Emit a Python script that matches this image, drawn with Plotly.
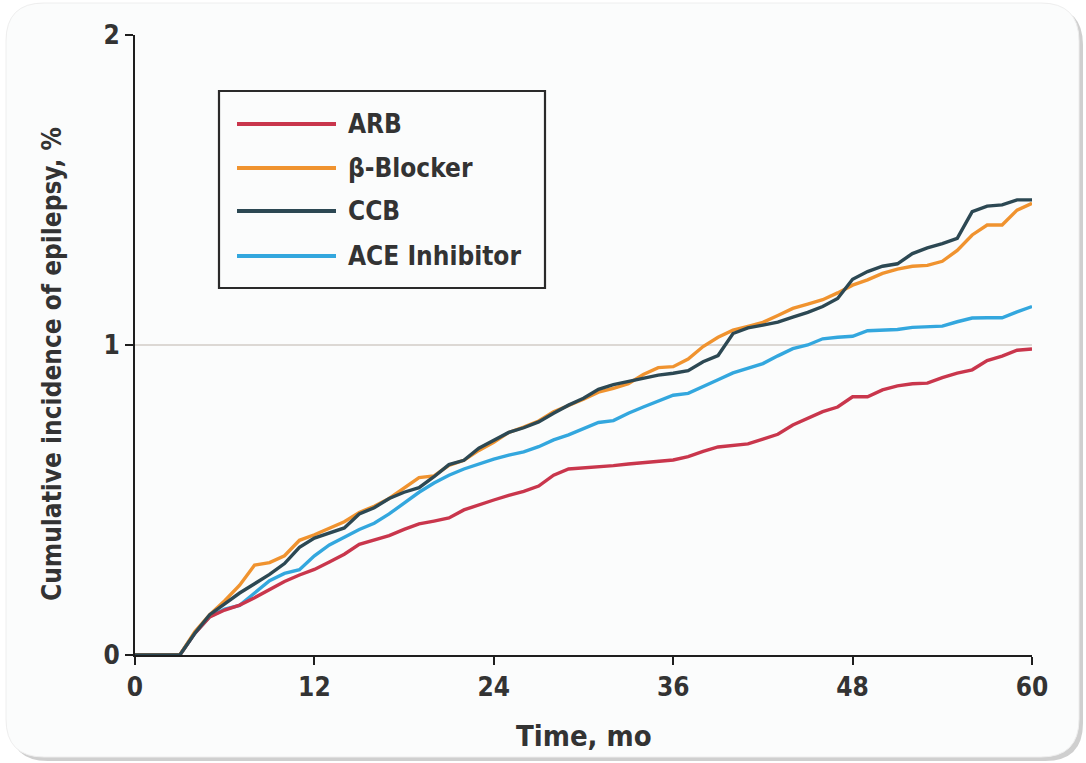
import plotly.graph_objects as go

# Follow-up time in months
months = list(range(0, 61))

# Cumulative incidence of epilepsy (%) by antihypertensive class
arb = [0, 0, 0, 0, 0.07, 0.123, 0.145, 0.161, 0.185, 0.21,
       0.237, 0.258, 0.276, 0.30, 0.325, 0.357, 0.37, 0.385, 0.405, 0.423,
       0.432, 0.442, 0.468, 0.485, 0.50, 0.515, 0.528, 0.545, 0.58, 0.60,
       0.603, 0.607, 0.611, 0.616, 0.621, 0.625, 0.629, 0.64, 0.657, 0.671,
       0.676, 0.681, 0.696, 0.712, 0.742, 0.765, 0.785, 0.80, 0.833, 0.833,
       0.855, 0.868, 0.875, 0.877, 0.895, 0.909, 0.92, 0.95, 0.964, 0.983,
       0.987]
beta_blocker = [0, 0, 0, 0, 0.075, 0.13, 0.175, 0.225, 0.29, 0.298,
                0.32, 0.37, 0.388, 0.408, 0.43, 0.46, 0.48, 0.505, 0.54, 0.572,
                0.578, 0.612, 0.628, 0.66, 0.686, 0.718, 0.735, 0.755, 0.785, 0.805,
                0.825, 0.848, 0.86, 0.875, 0.905, 0.927, 0.93, 0.955, 0.995, 1.025,
                1.048, 1.06, 1.073, 1.095, 1.118, 1.132, 1.146, 1.168, 1.193, 1.21,
                1.231, 1.245, 1.254, 1.257, 1.27, 1.305, 1.355, 1.387, 1.387, 1.435,
                1.457]
ccb = [0, 0, 0, 0, 0.07, 0.13, 0.165, 0.2, 0.23, 0.26,
       0.295, 0.347, 0.377, 0.393, 0.41, 0.455, 0.475, 0.505, 0.525, 0.54,
       0.575, 0.614, 0.628, 0.667, 0.694, 0.718, 0.733, 0.752, 0.78, 0.806,
       0.828, 0.857, 0.872, 0.882, 0.893, 0.903, 0.909, 0.917, 0.946, 0.966,
       1.037, 1.055, 1.064, 1.074, 1.09, 1.105, 1.124, 1.15, 1.212, 1.237,
       1.254, 1.262, 1.295, 1.313, 1.327, 1.344, 1.43, 1.448, 1.452, 1.468,
       1.468]
ace_inhibitor = [0, 0, 0, 0, 0.07, 0.124, 0.148, 0.16, 0.2, 0.24,
                 0.263, 0.275, 0.32, 0.355, 0.38, 0.405, 0.425, 0.455, 0.49, 0.525,
                 0.555, 0.58, 0.60, 0.617, 0.632, 0.645, 0.655, 0.672, 0.694, 0.71,
                 0.73, 0.75, 0.756, 0.78, 0.80, 0.82, 0.838, 0.844, 0.865, 0.888,
                 0.91, 0.925, 0.94, 0.965, 0.988, 1.0, 1.02, 1.025, 1.028, 1.046,
                 1.048, 1.05, 1.057, 1.06, 1.061, 1.075, 1.087, 1.088, 1.088, 1.107,
                 1.124]

series_names = ["ARB", "β-Blocker", "CCB", "ACE Inhibitor"]
series_values = [arb, beta_blocker, ccb, ace_inhibitor]
series_colors = ["#c9364c", "#f0932f", "#2c4853", "#33a7de"]

x_ticks = [0, 12, 24, 36, 48, 60]
y_ticks = [0, 1, 2]

FONT = "DejaVu Sans Condensed, Liberation Sans Narrow, Roboto Condensed, sans-serif"
TEXT = "#333333"

W, H = 1086, 763
L, R, T, B = 135, 1032, 35, 655   # plot area in pixels
PW, PH = R - L, B - T


def px(x):
    return (x - L) / PW


def py(y):
    return (B - y) / PH


def rounded_rect(x0, y0, x1, y1, r):
    pts = [
        f"M{px(x0 + r)},{py(y0)}",
        f"L{px(x1 - r)},{py(y0)}",
        f"Q{px(x1)},{py(y0)} {px(x1)},{py(y0 + r)}",
        f"L{px(x1)},{py(y1 - r)}",
        f"Q{px(x1)},{py(y1)} {px(x1 - r)},{py(y1)}",
        f"L{px(x0 + r)},{py(y1)}",
        f"Q{px(x0)},{py(y1)} {px(x0)},{py(y1 - r)}",
        f"L{px(x0)},{py(y0 + r)}",
        f"Q{px(x0)},{py(y0)} {px(x0 + r)},{py(y0)}",
        "Z",
    ]
    return " ".join(pts)


fig = go.Figure()

# blue curve first so the other curves sit on top of it
order = [3, 0, 1, 2]
for i in order:
    fig.add_trace(go.Scatter(
        x=months, y=series_values[i], mode="lines", name=series_names[i],
        line=dict(color=series_colors[i], width=3.4),
        showlegend=False,
    ))

shapes = []
# card shadow and card
shapes.append(dict(type="path", xref="paper", yref="paper", layer="below",
                   path=rounded_rect(10, 7, 1083, 761, 38),
                   fillcolor="#cfcfcf", line=dict(width=0)))
shapes.append(dict(type="path", xref="paper", yref="paper", layer="below",
                   path=rounded_rect(6, 3, 1079, 757, 38),
                   fillcolor="#fbfcfc", line=dict(color="#eeeeee", width=1)))

# legend frame
lx0, ly0, lx1, ly1 = 219, 91, 545, 288
shapes.append(dict(type="rect", xref="paper", yref="paper", layer="above",
                   x0=px(lx0), x1=px(lx1), y0=py(ly1), y1=py(ly0),
                   line=dict(color="#2a2a2a", width=2.2), fillcolor="rgba(0,0,0,0)"))
legend_rows = [124, 168, 211, 256]
annotations = []
for name, color, ry in zip(series_names, series_colors, legend_rows):
    shapes.append(dict(type="line", xref="paper", yref="paper", layer="above",
                       x0=px(237), x1=px(336), y0=py(ry), y1=py(ry),
                       line=dict(color=color, width=4)))
    annotations.append(dict(xref="paper", yref="paper", x=px(346), y=py(ry),
                            xanchor="left", yanchor="middle", showarrow=False,
                            text=name,
                            font=dict(family=FONT, size=26, color=TEXT, weight="bold")))

# axis titles
annotations.append(dict(xref="paper", yref="paper", x=px(52), y=py(364),
                        xanchor="center", yanchor="middle", showarrow=False,
                        textangle=-90, text="Cumulative incidence of epilepsy, %",
                        font=dict(family=FONT, size=26, color=TEXT, weight="bold")))
annotations.append(dict(xref="paper", yref="paper", x=px(584), y=py(736),
                        xanchor="center", yanchor="middle", showarrow=False,
                        text="Time, mo",
                        font=dict(family=FONT, size=29, color=TEXT, weight="bold")))

tick_font = dict(family=FONT, size=26, color=TEXT, weight="bold")

fig.update_layout(
    width=W, height=H,
    margin=dict(l=L, r=W - R, t=T, b=H - B, autoexpand=False),
    paper_bgcolor="#ffffff",
    plot_bgcolor="rgba(0,0,0,0)",
    shapes=shapes,
    annotations=annotations,
    xaxis=dict(
        range=[0, 60], tickvals=x_ticks, ticktext=[str(v) for v in x_ticks],
        showgrid=False, zeroline=False,
        showline=True, linecolor="#1e1e1e", linewidth=2.2,
        ticks="outside", ticklen=8, tickwidth=2, tickcolor="#1e1e1e",
        tickfont=tick_font,
        fixedrange=True,
    ),
    yaxis=dict(
        range=[0, 2], tickvals=y_ticks, ticktext=[str(v) for v in y_ticks],
        showgrid=True, gridcolor="#dcd8d4", gridwidth=2, zeroline=False,
        showline=True, linecolor="#1e1e1e", linewidth=2.2,
        ticks="outside", ticklen=8, tickwidth=2, tickcolor="#1e1e1e",
        tickfont=tick_font,
        fixedrange=True,
    ),
)

fig.write_html("out.html", config={"displayModeBar": False})
